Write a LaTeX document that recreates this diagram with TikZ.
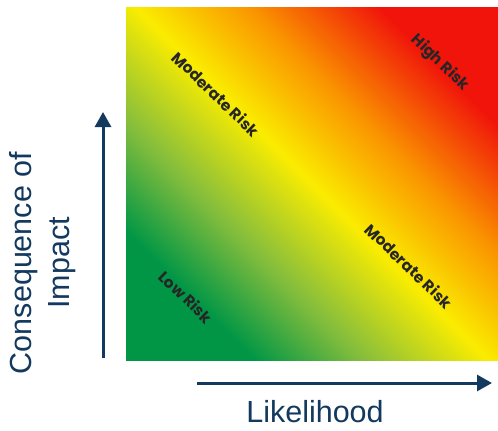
\documentclass[tikz,border=0pt]{standalone}
\usepackage{fontspec}
\setmainfont{Liberation Sans}
\newfontfamily\lblfont{Poppins}
\usetikzlibrary{arrows.meta}
\definecolor{navy}{HTML}{133A5E}
\definecolor{rgreen}{RGB}{0,150,70}
\definecolor{rlime}{RGB}{135,190,60}
\definecolor{ryellow}{RGB}{250,236,0}
\definecolor{rorange}{RGB}{250,150,0}
\definecolor{rred}{RGB}{240,20,10}
\pgfdeclarehorizontalshading{riskgrad}{100bp}{color(0bp)=(rgreen); color(27bp)=(rgreen); color(38bp)=(rlime); color(50bp)=(ryellow); color(61bp)=(rorange); color(74bp)=(rred); color(100bp)=(rred)}
\tikzset{
  axisarrow/.style={draw=navy, line width=3pt, -{Triangle[length=15pt,width=16pt]}},
  axislabel/.style={text=navy, font=\fontsize{30.5}{38}\selectfont, inner sep=0pt},
  risklabel/.style={text=black!85, font=\lblfont\bfseries\fontsize{15.5}{17}\selectfont, inner sep=0pt, rotate=-44}
}
\begin{document}
\begin{tikzpicture}[x=1pt, y=-1pt]
\useasboundingbox (0,0) rectangle (498,431);
\fill[white] (0,0) rectangle (498,431);
\shade[shading=riskgrad, shading angle=45] (126,7) rectangle (498,360);
\node[risklabel] (mod1) at (216,94) {Moderate Risk};
\node[risklabel] (high) at (440,63) {High Risk};
\node[risklabel] (low) at (186,297) {Low Risk};
\node[risklabel] (mod2) at (409,266) {Moderate Risk};
\coordinate (vstart) at (103,358);
\coordinate (vend) at (103,112);
\draw[axisarrow] (vstart) -- (vend);
\coordinate (hstart) at (197,383);
\coordinate (hend) at (492,383);
\draw[axisarrow] (hstart) -- (hend);
\node[axislabel] (xlab) at (315,412) {Likelihood};
\node[axislabel, rotate=90, align=center] (ylab) at (43,263) {Consequence of\\Impact};
\end{tikzpicture}
\end{document}
